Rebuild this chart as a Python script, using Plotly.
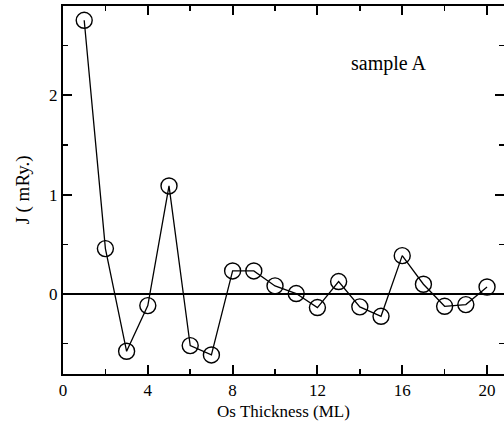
import plotly.graph_objects as go

thickness = list(range(1, 21))
J_values = [2.756, 0.457, -0.577, -0.117, 1.088, -0.52, -0.614, 0.232, 0.232, 0.081,
            0.004, -0.137, 0.125, -0.13, -0.225, 0.386, 0.098, -0.124, -0.107, 0.07]

x_ticks = [0, 4, 8, 12, 16, 20]
y_ticks = [0, 1, 2]

FONT = "Liberation Serif"
X_RANGE = [0, 20.8]
Y_RANGE = [-0.806, 2.90]

fig = go.Figure()
fig.add_trace(go.Scatter(
    x=thickness, y=J_values, mode="lines+markers",
    line=dict(color="black", width=1.3),
    marker=dict(symbol="circle-open", size=16, color="black", line=dict(width=1.4)),
    showlegend=False, cliponaxis=False,
))

fig.add_annotation(x=15.38, y=2.32, xref="x", yref="y", text="sample A", showarrow=False,
                   font=dict(family=FONT, size=20, color="black"))

axis_common = dict(
    showline=True, linecolor="black", linewidth=2, mirror="allticks",
    ticks="inside", ticklen=9, tickwidth=2, tickcolor="black",
    showgrid=False, tickfont=dict(family=FONT, size=17, color="black"),
    automargin=False,
)

fig.update_xaxes(range=X_RANGE, tickmode="array", tickvals=x_ticks,
                 minor=dict(dtick=2, tick0=0, ticks="inside", ticklen=5, tickwidth=1.5, tickcolor="black"),
                 title=dict(text="Os Thickness (ML)", font=dict(family=FONT, size=17, color="black"), standoff=6),
                 zeroline=False, **axis_common)
fig.update_yaxes(range=Y_RANGE, tickmode="array", tickvals=y_ticks,
                 minor=dict(dtick=0.5, tick0=0, ticks="inside", ticklen=5, tickwidth=1.5, tickcolor="black"),
                 title=dict(text="J ( mRy.)", font=dict(family=FONT, size=19, color="black"), standoff=14),
                 zeroline=True, zerolinecolor="black", zerolinewidth=1.5, **axis_common)

fig.update_layout(
    width=504, height=435, margin=dict(l=63, r=0, t=6, b=61, autoexpand=False),
    plot_bgcolor="white", paper_bgcolor="white", hovermode=False)

fig.write_html("out.html", config={"displayModeBar": False, "staticPlot": True},
               post_script="document.body.style.margin='0';document.body.style.overflow='hidden';")
